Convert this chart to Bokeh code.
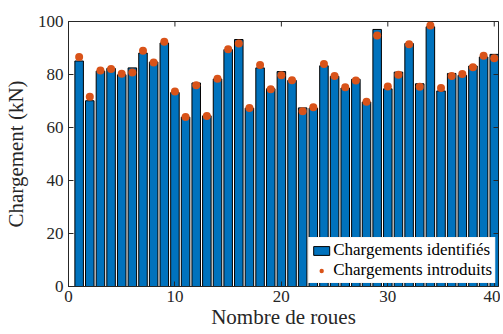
from bokeh.plotting import figure
from bokeh.models import Range1d, FixedTicker, Legend, LegendItem, ColumnDataSource
from bokeh.embed import file_html
from bokeh.resources import INLINE

roues = list(range(1, 41))
identifies = [85.1, 70.1, 81.3, 82.3, 79.9, 82.5, 88.1, 84.7, 91.9, 73.2,
              63.9, 76.8, 64.4, 78.3, 89.4, 93.2, 67.3, 82.5, 74.6, 81.1,
              77.8, 67.4, 67.3, 83.3, 79.3, 74.9, 78.2, 69.6, 97.0, 74.6,
              80.9, 91.7, 76.5, 98.0, 73.8, 80.4, 79.7, 83.2, 86.6, 87.6]
introduits = [86.6, 71.6, 81.5, 82.1, 80.3, 80.8, 89.0, 84.5, 92.4, 73.6,
              64.0, 75.9, 64.3, 78.4, 89.5, 91.7, 67.4, 83.6, 74.4, 79.7,
              77.8, 66.1, 67.6, 84.0, 79.4, 75.2, 77.7, 69.7, 94.7, 75.5,
              79.9, 91.4, 75.4, 98.5, 74.9, 79.4, 80.2, 82.7, 87.1, 86.1]
x_ticks = [0, 10, 20, 30, 40]
y_ticks = [0, 20, 40, 60, 80, 100]

src = ColumnDataSource(dict(x=roues, top=identifies, dot=introduits))

FONT = "Liberation Serif"
AX = "#262626"
X0, X1, Y0, Y1 = 0, 40.4, 0, 100
W, H = 500, 332
ML, MR, MT, MB = 67, 2, 21, 46
fw, fh = W - ML - MR, H - MT - MB
tick_px = 5

p = figure(width=W, height=H, output_backend="svg", toolbar_location=None,
           x_range=Range1d(X0, X1), y_range=Range1d(Y0, Y1),
           min_border_left=ML, min_border_right=MR, min_border_top=MT, min_border_bottom=MB)
p.grid.visible = False
p.outline_line_color = AX
p.outline_line_width = 1
p.background_fill_color = "white"
p.border_fill_color = "white"

bars = p.vbar(x="x", top="top", width=0.8, source=src, fill_color="#0072BD",
              line_color="black", line_width=1)
dots = p.scatter(x="x", y="dot", source=src, size=8, fill_color="#D95319",
                 line_color=None, marker="circle")

# ticks on the top and right edges of the box
dy = tick_px * (Y1 - Y0) / fh
dx = tick_px * (X1 - X0) / fw
p.segment(x0=x_ticks, x1=x_ticks, y0=[Y1] * len(x_ticks), y1=[Y1 - dy] * len(x_ticks),
          line_color=AX, line_width=1)
p.segment(x0=[X1] * len(y_ticks), x1=[X1 - dx] * len(y_ticks), y0=y_ticks, y1=y_ticks,
          line_color=AX, line_width=1)

for ax in [p.xaxis[0], p.yaxis[0]]:
    ax.axis_line_color = AX
    ax.major_tick_line_color = AX
    ax.major_tick_in = tick_px
    ax.major_tick_out = 0
    ax.minor_tick_line_color = None
    ax.major_label_text_font = FONT
    ax.major_label_text_font_size = "17px"
    ax.major_label_text_color = AX
    ax.axis_label_text_font = FONT
    ax.axis_label_text_font_size = "21px"
    ax.axis_label_text_font_style = "normal"
    ax.axis_label_text_color = AX
p.xaxis[0].ticker = FixedTicker(ticks=x_ticks)
p.yaxis[0].ticker = FixedTicker(ticks=y_ticks)
p.xaxis[0].axis_label = "Nombre de roues"
p.yaxis[0].axis_label = "Chargement (kN)"
p.xaxis[0].major_label_standoff = 4
p.xaxis[0].axis_label_standoff = 0
p.yaxis[0].major_label_standoff = 5
p.yaxis[0].axis_label_standoff = 7

legend = Legend(items=[LegendItem(label="Chargements identifiés", renderers=[bars]),
                       LegendItem(label="Chargements introduits", renderers=[dots])],
                location="bottom_right")
legend.margin = 3
legend.padding = 2
legend.spacing = 0
legend.label_text_font = FONT
legend.label_text_font_size = "17px"
legend.label_text_color = "black"
legend.label_standoff = 2
legend.glyph_width = 20
legend.glyph_height = 11
legend.label_height = 20
legend.border_line_color = "#f0f0f0"
legend.border_line_width = 1
legend.background_fill_alpha = 1
p.add_layout(legend, "center")

open("out.html", "w").write(file_html(p, INLINE))
